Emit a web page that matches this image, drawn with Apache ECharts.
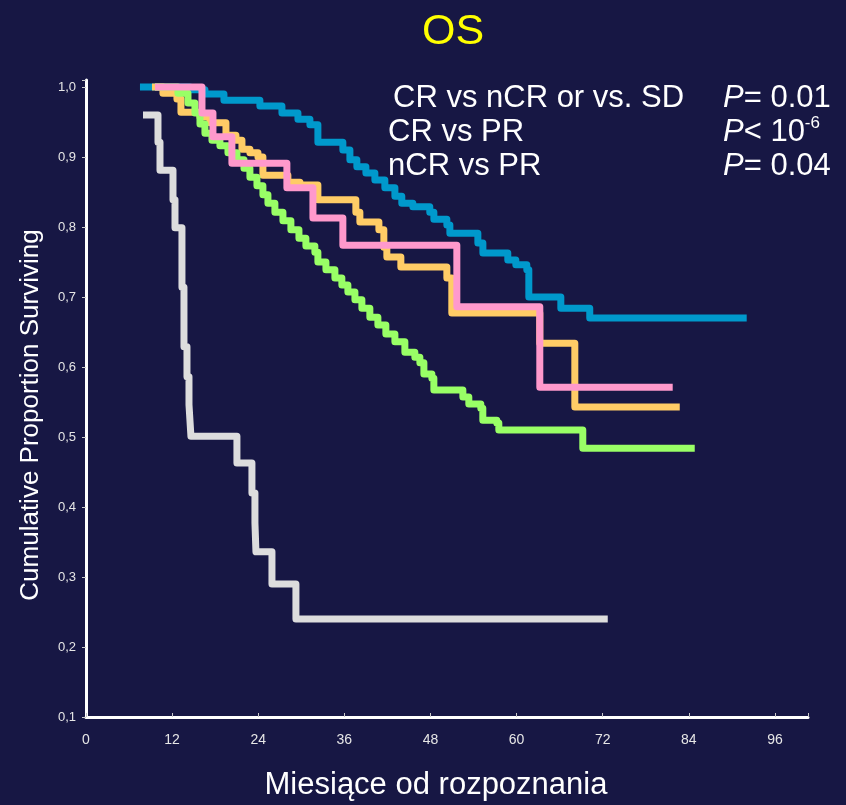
<!DOCTYPE html>
<html>
<head>
<meta charset="utf-8">
<script src="https://cdn.jsdelivr.net/npm/echarts@6/dist/echarts.min.js"></script>
<style>
html,body{margin:0;padding:0;background:#171744;}
#chart{width:846px;height:805px;}
</style>
</head>
<body>
<div id="chart"></div>
<script>
// ---- Data (months, cumulative proportion surviving) ----
const xTicks = [0, 12, 24, 36, 48, 60, 72, 84, 96];
const yTicks = ['0,1','0,2','0,3','0,4','0,5','0,6','0,7','0,8','0,9','1,0'];

const blueT = [7.52, 14.48, 16.57, 19.22, 24.23, 27.30, 29.53, 31.20, 32.31, 35.79, 36.77, 37.74, 39.0, 40.25, 41.64, 43.04, 44.0, 45.54, 47.9, 48.47, 50.28, 50.70, 54.6, 55.3, 58.77, 59.89, 61.42, 61.7, 66.16, 70.19, 92.06];
const blueS = [1.0, 0.996, 0.990, 0.981, 0.973, 0.963, 0.954, 0.946, 0.921, 0.910, 0.896, 0.886, 0.877, 0.867, 0.856, 0.844, 0.834, 0.829, 0.821, 0.811, 0.803, 0.791, 0.777, 0.763, 0.753, 0.746, 0.739, 0.700, 0.684, 0.670, 0.670];

const orangeT = [9.19, 10.72, 12.67, 13.23, 15.88, 17.27, 19.50, 20.89, 21.73, 22.84, 23.96, 24.65, 28.13, 29.81, 32.31, 37.6, 38.16, 40.81, 41.50, 41.92, 43.87, 50.28, 50.97, 63.23, 68.11, 82.73];
const orangeS = [1.0, 0.991, 0.983, 0.964, 0.957, 0.949, 0.931, 0.924, 0.911, 0.906, 0.900, 0.874, 0.864, 0.860, 0.839, 0.821, 0.807, 0.796, 0.771, 0.757, 0.743, 0.727, 0.677, 0.634, 0.543, 0.543];

const greenT = [9.61, 12.81, 14.21, 15.18, 15.88, 16.57, 17.55, 18.66, 19.78, 21.03, 22.01, 22.84, 23.82, 24.65, 25.35, 26.32, 27.44, 28.55, 29.67, 30.64, 31.89, 32.31, 33.43, 34.68, 35.65, 36.49, 37.47, 38.44, 39.55, 40.67, 41.78, 43.04, 44.43, 45.82, 46.52, 47.08, 48.19, 48.47, 52.51, 53.34, 55.01, 55.29, 57.24, 57.52, 69.22, 84.82];
const greenS = [1.0, 0.991, 0.977, 0.963, 0.947, 0.934, 0.924, 0.916, 0.906, 0.896, 0.884, 0.871, 0.859, 0.846, 0.834, 0.821, 0.809, 0.796, 0.784, 0.773, 0.764, 0.750, 0.739, 0.727, 0.717, 0.707, 0.696, 0.684, 0.671, 0.660, 0.647, 0.636, 0.621, 0.614, 0.606, 0.590, 0.584, 0.567, 0.557, 0.547, 0.541, 0.524, 0.520, 0.510, 0.484, 0.484];

const pinkT = [9.61, 16.16, 17.69, 20.33, 27.99, 31.62, 35.79, 51.67, 63.23, 81.75];
const pinkS = [1.0, 0.963, 0.929, 0.891, 0.856, 0.813, 0.774, 0.686, 0.571, 0.571];

const grayT = [7.94, 10.03, 10.31, 12.12, 12.40, 13.37, 13.65, 14.07, 14.35, 14.62, 21.03, 23.12, 23.54, 23.68, 25.91, 29.25, 72.70];
const grayS = [0.96, 0.921, 0.881, 0.839, 0.799, 0.714, 0.629, 0.586, 0.546, 0.501, 0.463, 0.420, 0.377, 0.336, 0.290, 0.240, 0.240];

const annLeft = ['CR vs nCR or vs. SD', 'CR vs PR', 'nCR vs PR'];
const annP = [['=', ' 0.01', ''], ['<', ' 10', '-6'], ['=', ' 0.04', '']];

// ---- Build ----
const zip = (t, s) => t.map((v, i) => [v, s[i]]);
const FONT = '"Liberation Sans", Arial, sans-serif';
const BG = '#171744';

function stepSeries(name, t, s, color, w) {
  return {
    name, type: 'line', step: 'end', data: zip(t, s),
    showSymbol: false, symbol: 'none', silent: true,
    lineStyle: { color, width: w, cap: 'butt', join: 'round' }
  };
}

const chart = echarts.init(document.getElementById('chart'), null, { renderer: 'canvas' });

const graphics = [];
const rowY = [98, 132, 166];
const rowX = [393, 388, 388];
annLeft.forEach((txt, i) => {
  graphics.push({
    type: 'text', x: rowX[i], y: rowY[i],
    style: { text: txt, fill: '#ffffff', font: '31px ' + FONT, textAlign: 'left', textVerticalAlign: 'middle' }
  });
  const p = annP[i];
  graphics.push({
    type: 'text', x: 723, y: rowY[i],
    style: {
      text: '{it|P}{n|' + p[0] + p[1] + '}' + (p[2] ? '{sup|' + p[2] + '}' : ''),
      fill: '#ffffff', textAlign: 'left', textVerticalAlign: 'middle',
      rich: {
        it: { fontStyle: 'italic', fontSize: 31, fontFamily: FONT, fill: '#fff', lineHeight: 34 },
        n: { fontSize: 31, fontFamily: FONT, fill: '#fff', lineHeight: 34 },
        sup: { fontSize: 17, fontFamily: FONT, fill: '#fff', verticalAlign: 'top', lineHeight: 34, padding: [0, 0, 14, 0] }
      }
    }
  });
});
// axis titles
graphics.push({
  type: 'text', x: 436, y: 785,
  style: { text: 'Miesiące od rozpoznania', fill: '#ffffff', font: '31px ' + FONT, textAlign: 'center', textVerticalAlign: 'middle' }
});
graphics.push({
  type: 'text', x: 31, y: 415, rotation: Math.PI / 2,
  style: { text: 'Cumulative Proportion Surviving', fill: '#ffffff', font: '26px ' + FONT, textAlign: 'center', textVerticalAlign: 'middle' }
});

const option = {
  backgroundColor: BG,
  animation: false,
  title: {
    text: 'OS', left: 448, top: 6, textAlign: 'center',
    textStyle: { color: '#ffff00', fontSize: 43, fontWeight: 'normal', fontFamily: FONT }
  },
  grid: { left: 86, right: 38, top: 80, bottom: 88, containLabel: false },
  xAxis: {
    type: 'value', min: 0, max: 100.6, interval: 12,
    axisLine: { show: true, onZero: false, lineStyle: { color: '#ffffff', width: 3 } },
    axisTick: { show: true, inside: true, length: 4, lineStyle: { color: '#cccccc', width: 1 } },
    axisLabel: {
      color: '#e6e6e6', fontSize: 14, fontFamily: FONT, margin: 16,
      formatter: v => (xTicks.indexOf(Math.round(v)) >= 0 && Math.abs(v - Math.round(v)) < 1e-6) ? String(Math.round(v)) : ''
    },
    splitLine: { show: false }
  },
  yAxis: {
    type: 'value', min: 0.1, max: 1.01, interval: 0.1,
    axisLine: { show: true, onZero: false, lineStyle: { color: '#ffffff', width: 3 } },
    axisTick: { show: true, inside: false, length: 4, lineStyle: { color: '#cccccc', width: 1 } },
    axisLabel: {
      color: '#e6e6e6', fontSize: 13, fontFamily: FONT, margin: 10,
      formatter: v => {
        const k = Math.round(v * 10);
        if (Math.abs(v * 10 - k) > 1e-6 || k < 1 || k > 10) return '';
        return yTicks[k - 1];
      }
    },
    splitLine: { show: false }
  },
  series: [
    stepSeries('CR', blueT, blueS, '#0099cc', 7),
    stepSeries('PR', orangeT, orangeS, '#ffcc66', 7),
    stepSeries('PR2', greenT, greenS, '#99ff66', 7),
    stepSeries('nCR', pinkT, pinkS, '#ff99cc', 7),
    stepSeries('SD', grayT, grayS, '#dddddd', 7)
  ],
  graphic: graphics
};
chart.setOption(option);
</script>
</body>
</html>
